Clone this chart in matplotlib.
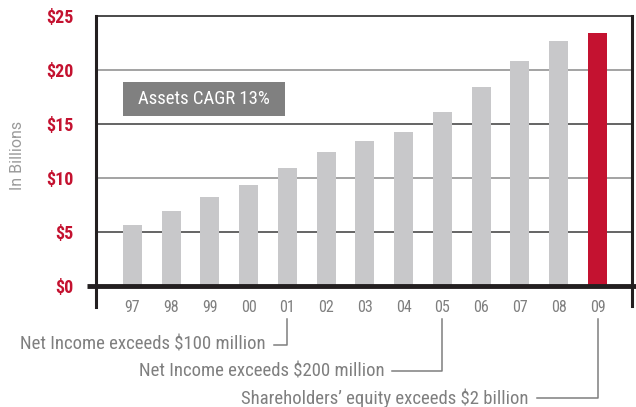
import matplotlib
matplotlib.use('Agg')
import matplotlib.pyplot as plt
import matplotlib.transforms as mtrans
from matplotlib.patches import Rectangle

years = ['97', '98', '99', '00', '01', '02', '03', '04', '05', '06', '07', '08', '09']
assets = [5.65, 6.95, 8.25, 9.35, 10.95, 12.4, 13.4, 14.25, 16.1, 18.4, 20.8, 22.7, 23.45]
yticks = [0, 5, 10, 15, 20, 25]
milestones = [('Net Income exceeds $100 million', '01'),
              ('Net Income exceeds $200 million', '05'),
              ("Shareholders\u2019 equity exceeds $2 billion", '09')]

FONT = ['Roboto Condensed', 'Archivo Narrow', 'DejaVu Sans']
RED = '#c41230'
GREY = '#c8c8ca'
TXT = '#7f7f7f'

fig = plt.figure(figsize=(6.36, 4.07), dpi=100)
W, H = 636, 407
ax = fig.add_axes([96/W, 1-286/H, (632-96)/W, 270/H])

x = list(range(len(years)))
colors = [GREY]*(len(years)-1) + [RED]
ax.bar(x, assets, width=0.49, color=colors, zorder=3)
ax.set_xlim(-0.94, 12.89)
ax.set_ylim(0, 25)

for v in yticks[1:-1]:
    ax.axhline(v, color='#8a8a8a' if v % 10 == 0 else '#3a3a3a', lw=1.1, zorder=1)

for s in ['left', 'right', 'top', 'bottom']:
    ax.spines[s].set_visible(False)

# frame lines
ax.plot([0, 1], [1, 1], transform=ax.transAxes, color='#2a2a2a', lw=1.2, clip_on=False)
ax.plot([0, 0], [1, -0.078], transform=ax.transAxes, color='#231f20', lw=2.2, clip_on=False)
ax.plot([1, 1], [1, -0.074], transform=ax.transAxes, color='#231f20', lw=2.2, clip_on=False)
ax.plot([-9/536, 4/536 + 1], [0, 0], transform=ax.transAxes, color='#231f20', lw=3.5,
        clip_on=False, zorder=5, solid_capstyle='butt')

ax.set_yticks(yticks)
ax.set_yticklabels(['$%d' % t for t in yticks], fontfamily=FONT, fontweight='bold',
                   fontsize=13, color=RED)
ax.set_xticks(x)
ax.set_xticklabels(years, fontfamily=FONT, fontsize=11.5, color=TXT)
ax.tick_params(axis='y', length=0, pad=16)
ax.tick_params(axis='x', length=0, pad=10)

fig.text(18/W, 1-155/H, 'In Billions', rotation=90, ha='center', va='center',
         fontfamily=['Roboto', 'DejaVu Sans'], fontsize=11.5, color='#9a9a9a')

ax.add_patch(Rectangle((27/536, 170/270), 162/536, 34/270, transform=ax.transAxes,
                       fc='#808080', ec='none', zorder=6))
ax.text(108/536, 187/270, 'Assets CAGR 13%', transform=ax.transAxes, ha='center', va='center',
        fontfamily=FONT, fontsize=13.5, color='white', zorder=7)

blend = mtrans.blended_transform_factory(ax.transData, ax.transAxes)
levels = [-0.2185, -0.315, -0.415]
spans = [0.36, 1.29, 1.57]
for (label, yr), lvl, sp in zip(milestones, levels, spans):
    xi = years.index(yr)
    ax.plot([xi - sp, xi, xi], [lvl, lvl, -0.122], transform=blend, color=TXT,
            lw=1.1, clip_on=False)
    ax.text(xi - sp - 0.2, lvl, label, transform=blend, ha='right', va='center',
            fontfamily=FONT, fontsize=13.5, color=TXT)

fig.savefig('out.png', dpi=100)
